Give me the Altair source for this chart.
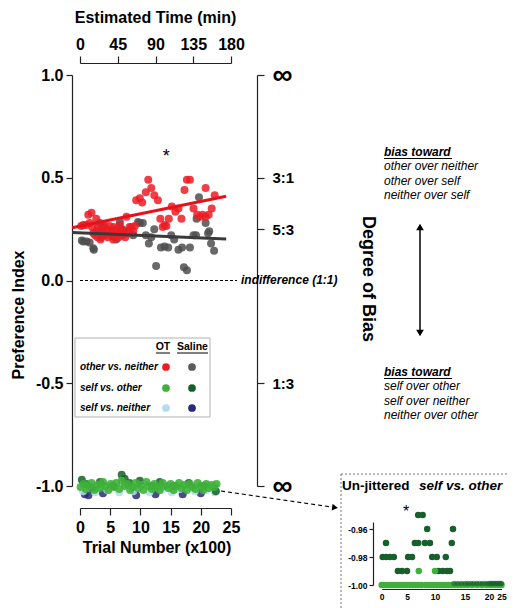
import altair as alt
import pandas as pd

OFF = 8
W, H = 501, 600
FONT = "Liberation Sans"


def c(p):
    return p - OFF


# ---------------- data ----------------
trial_ticks = [0, 5, 10, 15, 20, 25]
time_ticks = [0, 45, 90, 135, 180]
pi_ticks = [-1.0, -0.5, 0.0, 0.5, 1.0]
bias_ticks = [1.0, 0.5, 0.25, -0.5, -1.0]
bias_labels = ["∞", "3:1", "5:3", "1:3", "∞"]
inset_x_ticks = [0, 5, 10, 15, 20, 25]
inset_y_ticks = [-1.0, -0.98, -0.96]

# OT other vs. neither (red)
ot_on_t = [0.55, 1.37, 1.9, 2.7, 3.5, 3.8, 4.9, 6.0, 6.8, 7.7, 8.5, 9.1, 9.3, 9.9, 10.3, 10.9,
           11.3, 11.8, 12.3, 12.9, 13.3, 14.0, 14.3, 14.7, 15.2, 15.8, 16.3, 16.8, 17.3, 17.7,
           18.2, 18.8, 19.4, 19.9, 20.3, 20.8, 21.3, 21.8, 22.3, 20.8,
           1.0, 1.6, 2.2, 2.5, 2.9, 3.1, 3.4, 3.9, 4.2, 4.4, 4.6, 5.0, 5.2, 5.5, 5.8, 6.2, 6.4,
           6.6, 7.0, 7.2, 7.5, 7.9, 8.2, 8.8, 2.0, 3.0, 4.0, 5.6, 0.2, 13.7]
ot_on_v = [0.27, 0.32, 0.33, 0.30, 0.245, 0.226, 0.265, 0.25, 0.25, 0.31, 0.26, 0.265, 0.39, 0.40,
           0.38, 0.43, 0.49, 0.45, 0.415, 0.39, 0.30, 0.27, 0.265, 0.30, 0.36, 0.335, 0.35, 0.30,
           0.44, 0.49, 0.49, 0.35, 0.32, 0.31, 0.32, 0.45, 0.32, 0.35, 0.415, 0.31,
           0.27, 0.28, 0.23, 0.22, 0.21, 0.24, 0.20, 0.24, 0.22, 0.25, 0.21, 0.23, 0.24, 0.20,
           0.22, 0.23, 0.21, 0.27, 0.22, 0.24, 0.21, 0.23, 0.26, 0.24, 0.26, 0.26, 0.27, 0.26,
           0.265, 0.26]

# Saline other vs. neither (grey)
sal_on_t = [0.3, 0.55, 1.1, 1.6, 2.3, 3.3, 5.4, 6.6, 8.2, 9.9, 10.4, 10.9, 11.4, 11.8, 12.3, 12.6,
            13.4, 14.0, 14.6, 15.1, 15.6, 16.3, 16.9, 17.2, 17.7, 18.2, 18.8, 19.3, 19.7, 20.8,
            21.2, 21.7, 22.2, 2.7, 5.5, 9.6, 4.0, 7.0, 8.8, 6.0, 3.5, 19.2, 21.4, 2.2]
sal_on_v = [0.195, 0.19, 0.19, 0.185, 0.15, 0.28, 0.215, 0.285, 0.245, 0.28, 0.28, 0.22, 0.18,
            0.21, 0.25, 0.07, 0.16, 0.165, 0.16, 0.22, 0.20, 0.15, 0.16, 0.065, 0.05, 0.16, 0.22,
            0.30, 0.405, 0.28, 0.23, 0.18, 0.145, 0.24, 0.22, 0.285, 0.26, 0.25, 0.22, 0.20,
            0.21, 0.22, 0.24, 0.157]

# fitted lines (end points)
fit_t = [-1.3, 24.2]
fit_ot = [0.257, 0.41]
fit_sal = [0.233, 0.202]

# jittered self vs. other / self vs. neither near -1
ot_so_t = [0.1, 0.6, 1.0, 1.5, 1.9, 2.4, 2.9, 3.3, 3.8, 4.2, 4.7, 5.1, 5.6, 6.0, 6.5, 6.9, 7.4,
           7.8, 8.3, 8.7, 9.2, 9.6, 10.1, 10.5, 11.0, 11.4, 11.9, 12.3, 12.8, 13.2, 13.7, 14.1,
           14.6, 15.0, 15.5, 15.9, 16.4, 16.8, 17.3, 17.7, 18.2, 18.6, 19.1, 19.5, 20.0, 20.4,
           20.9, 21.3, 21.8, 22.2, 22.6]
ot_so_v = [-1.005, -0.99, -1.015, -1.0, -0.985, -1.02, -0.995, -1.01, -0.98, -1.0, -1.02, -0.99,
           -1.005, -0.985, -1.015, -0.975, -1.0, -0.99, -1.02, -1.005, -0.985, -1.01, -0.995,
           -1.02, -0.98, -1.0, -1.015, -0.99, -1.005, -1.02, -0.985, -1.0, -1.01, -0.99, -1.02,
           -1.0, -0.985, -1.01, -0.995, -1.02, -0.99, -1.005, -1.015, -0.985, -1.0, -1.02, -0.99,
           -1.01, -0.995, -1.005, -0.99]
sal_so_t = [0.3, 1.0, 2.0, 3.3, 5.5, 6.9, 7.4, 8.2, 9.9, 12.0, 13.2, 15.5, 18.0, 20.5, 22.5]
sal_so_v = [-0.97, -0.99, -1.01, -0.98, -1.0, -0.945, -0.965, -0.985, -0.975, -1.0, -0.98, -1.0,
            -0.985, -1.0, -1.025]
ot_sn_t = [0.5, 2.5, 4.5, 6.5, 8.8, 11.5, 13.5, 15.2, 16.5, 19.0, 21.0, 22.3]
ot_sn_v = [-1.025, -1.03, -1.02, -1.03, -1.025, -1.03, -1.02, -1.03, -1.015, -1.025, -1.02, -1.03]
sal_sn_t = [0.8, 1.4, 3.8, 9.3, 12.5, 17.0, 20.0]
sal_sn_v = [-1.04, -1.045, -1.035, -1.045, -1.04, -1.04, -1.035]

# un-jittered inset
ins_sal_t = [7.0, 7.8, 8.6, 13.0, 0.85, 6.4, 7.0, 8.2, 9.1, 12.8, 0.2, 0.9, 1.6, 2.4, 5.2, 5.9,
             9.5, 10.3, 11.8, 3.2, 4.0, 5.0, 10.6, 11.3, 12.0, 12.5]
ins_sal_v = [-0.95, -0.95, -0.96, -0.96, -0.97, -0.97, -0.97, -0.97, -0.97, -0.97, -0.98, -0.98,
             -0.98, -0.98, -0.98, -0.98, -0.98, -0.98, -0.98, -0.99, -0.99, -0.99, -0.99, -0.99,
             -0.99, -0.99]
ins_sal_band_t = [13.2, 13.8, 14.4, 15.0, 15.6, 16.2, 16.8, 17.4, 18.0, 18.6, 19.2, 19.8, 20.4,
                  21.0, 21.6, 22.2, 22.8, 23.4, 24.0, 24.6, 25.0]
ins_sal_band_v = [-0.999, -0.999, -0.999, -0.999, -0.999, -0.999, -0.999, -0.999, -0.999, -0.999,
                  -0.999, -0.999, -0.999, -0.999, -0.999, -0.999, -0.999, -0.999, -0.999, -0.999,
                  -0.999]
ins_ot_t = [0.0, 0.5, 1.0, 1.5, 2.0, 2.5, 3.0, 3.5, 4.0, 4.5, 5.0, 5.5, 6.0, 6.5, 7.0, 7.5, 8.3,
            8.8, 9.3, 9.8, 10.3, 10.8, 11.3, 11.8, 12.3, 12.8, 13.3, 13.8, 14.3, 14.8, 15.5,
            16.5, 17.5, 18.5, 19.5, 20.5, 21.5, 22.5, 23.5, 24.5, 25.0, 7.1, 10.0]
ins_ot_v = [-1.0, -1.0, -1.0, -1.0, -1.0, -1.0, -1.0, -1.0, -1.0, -1.0, -1.0, -1.0, -1.0, -1.0,
            -1.0, -1.0, -1.0, -1.0, -1.0, -1.0, -1.0, -1.0, -1.0, -1.0, -1.0, -1.0, -1.0, -1.0,
            -1.0, -1.0, -1.0, -1.0, -1.0, -1.0, -1.0, -1.0, -1.0, -1.0, -1.0, -1.0, -1.0,
            -0.99, -0.99]

RED = "#ec1c24"
GRAY = "#4f4f4f"
LGREEN = "#3eb13a"
DGREEN = "#17602c"
LBLUE = "#b5dbee"
NAVY = "#2a2a7a"

# ---------------- scales ----------------
MX = alt.Scale(domain=[0, 25], range=[c(80), c(231)], nice=False, zero=False)
MY = alt.Scale(domain=[-1, 1], range=[c(486), c(75)], nice=False, zero=False)
TX = alt.Scale(domain=[0, 180], range=[c(80), c(231)], nice=False, zero=False)
IX = alt.Scale(domain=[0, 5, 10, 15, 20, 25],
               range=[c(381.7), c(407), c(435), c(465), c(489), c(501.5)], nice=False, zero=False)
IY = alt.Scale(domain=[-1.0, -0.955], range=[c(585), c(522)], nice=False, zero=False)


def neg_expr(fmt):
    return ("datum.value < 0 ? '-' + format(-datum.value, '%s') : format(datum.value, '%s')"
            % (fmt, fmt))


bias_expr = ""
for val, lab in zip(bias_ticks, bias_labels):
    bias_expr += "datum.value == %s ? '%s' : " % (val, lab)
bias_expr += "''"


def scatter(t, v, color, size=64, opacity=0.85, xs=MX, ys=MY):
    df = pd.DataFrame({"t": t, "v": v})
    return alt.Chart(df).mark_circle(color=color, size=size, opacity=opacity).encode(
        x=alt.X("t:Q", scale=xs, axis=None), y=alt.Y("v:Q", scale=ys, axis=None))


def fitline(t, v, color):
    df = pd.DataFrame({"t": t, "v": v})
    return alt.Chart(df).mark_line(color=color, strokeWidth=3).encode(
        x=alt.X("t:Q", scale=MX, axis=None), y=alt.Y("v:Q", scale=MY, axis=None))


def ptext(s, px, py, size, weight="normal", style="normal", align="left", angle=0):
    return alt.Chart(pd.DataFrame({"s": [s]})).mark_text(
        align=align, baseline="middle", fontSize=size, fontWeight=weight, fontStyle=style,
        angle=angle, color="black", font=FONT).encode(
        x=alt.value(c(px)), y=alt.value(c(py)), text="s:N")


def prule(x1, y1, x2, y2, color="black", width=1.0, dash=None):
    kw = dict(color=color, strokeWidth=width)
    if dash:
        kw["strokeDash"] = dash
    return alt.Chart(pd.DataFrame({"k": [0]})).mark_rule(**kw).encode(
        x=alt.value(c(x1)), y=alt.value(c(y1)), x2=alt.value(c(x2)), y2=alt.value(c(y2)))


def prect(x1, y1, x2, y2, stroke, fill="white", fillop=1.0, dash=None):
    kw = dict(stroke=stroke, fill=fill, fillOpacity=fillop, strokeWidth=1)
    if dash:
        kw["strokeDash"] = dash
    return alt.Chart(pd.DataFrame({"k": [0]})).mark_rect(**kw).encode(
        x=alt.value(c(x1)), y=alt.value(c(y1)), x2=alt.value(c(x2)), y2=alt.value(c(y2)))


def pmark(px, py, shape, color, size, angle=0, opacity=1.0):
    return alt.Chart(pd.DataFrame({"k": [0]})).mark_point(
        shape=shape, filled=True, color=color, size=size, angle=angle, opacity=opacity).encode(
        x=alt.value(c(px)), y=alt.value(c(py)))


anchor = pd.DataFrame({"t": [0.0], "v": [0.0]})
AX = dict(grid=False, labelFont=FONT, labelColor="black", domainColor="#222", tickColor="#222",
          labelOverlap=False, labelFlush=False, title=None, domainWidth=1.2, tickWidth=1.2)

left_axis = alt.Chart(anchor).mark_point(opacity=0).encode(
    x=alt.X("t:Q", scale=MX, axis=None),
    y=alt.Y("v:Q", scale=MY, axis=alt.Axis(
        orient="left", offset=-c(72), values=pi_ticks, labelExpr=neg_expr(".1f"),
        labelFontSize=16, labelFontWeight="bold", tickSize=6, labelPadding=3, **AX)))

bottom_axis = alt.Chart(anchor).mark_point(opacity=0).encode(
    x=alt.X("t:Q", scale=MX, axis=alt.Axis(
        orient="bottom", offset=c(508) - H, values=trial_ticks, labelFontSize=16,
        labelFontWeight="bold", tickSize=7, labelPadding=4, **AX)),
    y=alt.Y("v:Q", scale=MY, axis=None))

top_axis = alt.Chart(pd.DataFrame({"m": [0.0], "v": [0.0]})).mark_point(opacity=0).encode(
    x=alt.X("m:Q", scale=TX, axis=alt.Axis(
        orient="top", offset=-c(63), values=time_ticks, labelFontSize=16,
        labelFontWeight="bold", tickSize=7, labelPadding=4, **AX)),
    y=alt.Y("v:Q", scale=MY, axis=None))

right_axis = alt.Chart(anchor).mark_point(opacity=0).encode(
    x=alt.X("t:Q", scale=MX, axis=None),
    y=alt.Y("v:Q", scale=MY, axis=alt.Axis(
        orient="right", offset=c(257) - W, values=bias_ticks, labelExpr=bias_expr,
        labelFontSize={"condition": {"test": "abs(datum.value) == 1", "value": 28}, "value": 15},
        labelFontWeight="bold", tickSize=7, labelPadding=8, **AX)))

inset_y_axis = alt.Chart(pd.DataFrame({"t": [0.0], "v": [-1.0]})).mark_point(opacity=0).encode(
    x=alt.X("t:Q", scale=IX, axis=None),
    y=alt.Y("v:Q", scale=IY, axis=alt.Axis(
        orient="left", offset=-c(373), values=inset_y_ticks, labelExpr=neg_expr(".2f"),
        labelFontSize=8.5, labelFontWeight="bold", tickSize=4, labelPadding=2, **AX)))

inset_x_axis = alt.Chart(pd.DataFrame({"t": [0.0], "v": [-1.0]})).mark_point(opacity=0).encode(
    x=alt.X("t:Q", scale=IX, axis=alt.Axis(
        orient="bottom", offset=c(589) - H, values=inset_x_ticks, labelFontSize=8.5,
        labelFontWeight="bold", ticks=False, labelPadding=3, **AX)),
    y=alt.Y("v:Q", scale=IY, axis=None))

zero_line = alt.Chart(pd.DataFrame({"t": [0.0], "t2": [26.0], "v": [0.0]})).mark_rule(
    color="black", strokeWidth=1, strokeDash=[3, 2]).encode(
    x=alt.X("t:Q", scale=MX, axis=None), x2="t2:Q", y=alt.Y("v:Q", scale=MY, axis=None))

star_main = alt.Chart(pd.DataFrame({"t": [14.3], "v": [0.60], "s": ["*"]})).mark_text(
    fontSize=18, font=FONT, color="black").encode(
    x=alt.X("t:Q", scale=MX, axis=None), y=alt.Y("v:Q", scale=MY, axis=None), text="s:N")

layers = [
    prect(75, 338, 210, 417, "#b0b0b0"),
    prect(341, 474, 530, 630, "#777777", fill="white", fillop=0.0, dash=[2, 2]),
    zero_line,
    scatter(sal_on_t, sal_on_v, GRAY),
    scatter(ot_on_t, ot_on_v, RED),
    scatter(sal_sn_t, sal_sn_v, NAVY),
    scatter(ot_sn_t, ot_sn_v, LBLUE),
    scatter(sal_so_t, sal_so_v, DGREEN),
    scatter(ot_so_t, ot_so_v, LGREEN, opacity=0.9),
    fitline(fit_t, fit_sal, "#3a3a3a"),
    fitline(fit_t, fit_ot, "#e8101a"),
    star_main,
    left_axis, bottom_axis, top_axis, right_axis,
    # inset
    scatter(ins_sal_t, ins_sal_v, DGREEN, size=42, opacity=1.0, xs=IX, ys=IY),
    scatter(ins_ot_t, ins_ot_v, LGREEN, size=42, opacity=1.0, xs=IX, ys=IY),
    scatter(ins_sal_band_t, ins_sal_band_v, DGREEN, size=30, opacity=0.6, xs=IX, ys=IY),
    inset_y_axis, inset_x_axis,
    ptext("Un-jittered", 342, 486, 13.5, weight="bold"),
    ptext("self vs. other", 419, 486, 13.5, weight="bold", style="italic"),
    ptext("*", 406, 512, 16, align="center"),
    # titles
    ptext("Estimated Time (min)", 155.5, 18, 16, weight="bold", align="center"),
    ptext("Trial Number (x100)", 157, 548, 16, weight="bold", align="center"),
    ptext("Preference Index", 19, 315, 16, weight="bold", align="center", angle=270),
    ptext("Degree of Bias", 368, 279, 18, weight="bold", align="center", angle=90),
    ptext("indifference (1:1)", 241, 280, 12, weight="bold", style="italic"),
    # bias text blocks
    ptext("bias toward", 384, 152, 12, weight="bold", style="italic"),
    prule(384, 158.5, 452, 158.5),
    ptext("other over neither", 384, 166, 12, style="italic"),
    ptext("other over self", 384, 181, 12, style="italic"),
    ptext("neither over self", 384, 195, 12, style="italic"),
    ptext("bias toward", 384, 372, 12, weight="bold", style="italic"),
    prule(384, 378.5, 452, 378.5),
    ptext("self over other", 384, 386, 12, style="italic"),
    ptext("self over neither", 384, 401, 12, style="italic"),
    ptext("neither over other", 384, 415, 12, style="italic"),
    prule(420, 226, 420, 334, width=1.5),
    pmark(420, 227, "triangle-up", "black", 60),
    pmark(420, 333, "triangle-down", "black", 60),
    # dashed arrow to inset
    prule(221, 491, 332, 507, width=1.2, dash=[4, 3]),
    pmark(335, 507.5, "triangle-right", "black", 45, angle=8),
    # legend
    ptext("OT", 163, 347, 10.5, weight="bold", align="center"),
    ptext("Saline", 192.5, 347, 10.5, weight="bold", align="center"),
    prule(156, 353, 170, 353),
    prule(177, 353, 208, 353),
    ptext("other vs. neither", 80, 367, 10, weight="bold", style="italic"),
    ptext("self vs. other", 80, 388, 10, weight="bold", style="italic"),
    ptext("self vs. neither", 80, 408, 10, weight="bold", style="italic"),
    pmark(166, 367, "circle", RED, 60),
    pmark(192, 367, "circle", "#5a5a5a", 60),
    pmark(166, 388, "circle", LGREEN, 60),
    pmark(192, 388, "circle", DGREEN, 60),
    pmark(166, 408, "circle", LBLUE, 60),
    pmark(192, 408, "circle", NAVY, 60),
]

chart = alt.layer(*layers).resolve_scale(x="independent", y="independent").properties(
    width=W, height=H, autosize=alt.AutoSizeParams(type="none"), padding=0
).configure_view(stroke=None)

chart.save("out.html", embed_options={"renderer": "svg", "actions": False})
